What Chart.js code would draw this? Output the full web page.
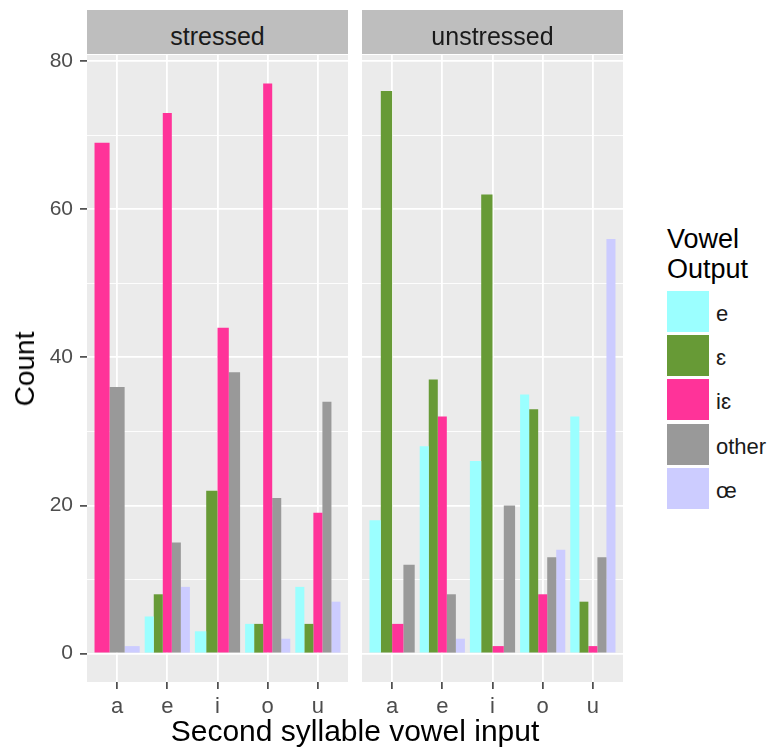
<!DOCTYPE html>
<html>
<head>
<meta charset="utf-8">
<script src="https://cdn.jsdelivr.net/npm/chart.js@4.4.1/dist/chart.umd.min.js"></script>
<style>
  body { margin: 0; background: #fff; font-family: "Liberation Sans", Arial, sans-serif; }
  #wrap { position: relative; width: 770px; height: 756px; overflow: hidden; }
  canvas { position: absolute; top: 0; }
  .strip { position: absolute; top: 10px; width: 261px; height: 44px; background: #BEBEBE;
           color: #1A1A1A; font-size: 25px; line-height: 52px; text-align: center; overflow: hidden; }
  #ytitle { position: absolute; left: 25px; top: 369px; font-size: 28px; line-height: 28px; white-space: nowrap;
            transform: translate(-50%, -50%) rotate(-90deg); color: #000; }
  #xtitle { position: absolute; left: 355px; top: 713px; font-size: 30px; line-height: 36px; white-space: nowrap;
            transform: translateX(-50%); color: #000; }
  #legend-title { position: absolute; left: 667px; top: 224px; font-size: 27px; line-height: 30px; color: #000; }
  .key { position: absolute; left: 667px; width: 42px; height: 41px; }
  .key-label { position: absolute; left: 716px; font-size: 22px; line-height: 41px; padding-top: 2px; color: #1A1A1A; white-space: nowrap; }
</style>
</head>
<body>
<div id="wrap">
  <canvas id="stressed" width="350" height="756" style="left:0"></canvas>
  <canvas id="unstressed" width="280" height="756" style="left:350px"></canvas>
  <div class="strip" style="left:87px">stressed</div>
  <div class="strip" style="left:362px">unstressed</div>
  <div id="ytitle">Count</div>
  <div id="xtitle">Second syllable vowel input</div>
  <div id="legend-title">Vowel<br>Output</div>
  <div id="legend"></div>
</div>
<script>
  const vowels = ['a', 'e', 'i', 'o', 'u'];
  const outputs = ['e', 'ɛ', 'iɛ', 'other', 'œ'];
  const colours = ['#9BFFFF', '#679A36', '#FF3399', '#999999', '#CCCCFF'];
  const yTicks = [0, 20, 40, 60, 80];
  const yMinor = [10, 30, 50, 70];

  // counts per input vowel a, e, i, o, u (null = output not present, no bar slot)
  const stressedE = [null, 5, 3, 4, 9];
  const stressedEps = [null, 8, 22, 4, 4];
  const stressedIe = [69, 73, 44, 77, 19];
  const stressedOther = [36, 15, 38, 21, 34];
  const stressedOe = [1, 9, null, 2, 7];

  const unstressedE = [18, 28, 26, 35, 32];
  const unstressedEps = [76, 37, 62, 33, 7];
  const unstressedIe = [4, 32, 1, 8, 1];
  const unstressedOther = [12, 8, 20, 13, 13];
  const unstressedOe = [null, 2, null, 14, 56];

  Chart.defaults.font.family = '"Liberation Sans", Arial, sans-serif';

  const panelBg = {
    id: 'panelBg',
    beforeDraw(chart) {
      const { ctx, chartArea: a } = chart;
      ctx.save();
      ctx.fillStyle = '#EBEBEB';
      ctx.fillRect(a.left, a.top, a.right - a.left, a.bottom - a.top);
      ctx.restore();
    }
  };

  function makeDatasets(series) {
    return outputs.map((name, k) => ({
      label: name,
      data: series[k].map((v, i) => ({ x: i, y: v })),
      backgroundColor: colours[k],
      borderWidth: 0
    }));
  }

  function panel(id, series, showY) {
    const gridValues = yTicks.concat(yMinor).sort((a, b) => a - b);
    const isMajor = v => yTicks.includes(v);
    return new Chart(document.getElementById(id), {
      type: 'bar',
      data: { datasets: makeDatasets(series) },
      options: {
        responsive: false,
        animation: false,
        layout: { padding: { top: 55, bottom: 34, left: showY ? 0 : 12, right: showY ? 2 : 7 } },
        datasets: { bar: { categoryPercentage: 0.9, barPercentage: 1, skipNull: true } },
        plugins: { legend: { display: false }, tooltip: { enabled: false } },
        scales: {
          x: {
            type: 'linear',
            min: -0.6,
            max: vowels.length - 0.4,
            offset: false,
            afterBuildTicks: s => { s.ticks = vowels.map((v, i) => ({ value: i })); },
            afterFit: s => { s.height = 40; },
            ticks: {
              callback: v => vowels[v],
              color: '#4D4D4D',
              font: { size: 22 },
              padding: 5,
              maxRotation: 0,
              autoSkip: false
            },
            grid: { offset: false, color: '#FFFFFF', lineWidth: 1.8, tickLength: 7, tickColor: '#333333', tickWidth: 1.5 },
            border: { display: false }
          },
          y: {
            min: -3.85,
            max: 80.85,
            afterBuildTicks: s => { s.ticks = gridValues.map(v => ({ value: v })); },
            afterFit: s => { s.width = showY ? 87 : 0; },
            ticks: {
              display: showY,
              callback: v => isMajor(v) ? v : '',
              color: '#4D4D4D',
              font: { size: 21 },
              padding: 7,
              autoSkip: false
            },
            grid: {
              color: '#FFFFFF',
              lineWidth: c => isMajor(c.tick.value) ? 1.8 : 0.9,
              drawTicks: showY,
              tickLength: 7,
              tickWidth: 1.5,
              tickColor: c => isMajor(c.tick.value) ? '#333333' : 'rgba(0,0,0,0)'
            },
            border: { display: false }
          }
        }
      },
      plugins: [panelBg]
    });
  }

  panel('stressed', [stressedE, stressedEps, stressedIe, stressedOther, stressedOe], true);
  panel('unstressed', [unstressedE, unstressedEps, unstressedIe, unstressedOther, unstressedOe], false);

  // legend
  const legend = document.getElementById('legend');
  outputs.forEach((name, k) => {
    const top = 291 + k * 44.2;
    const key = document.createElement('div');
    key.className = 'key';
    key.style.top = top + 'px';
    key.style.background = colours[k];
    const label = document.createElement('div');
    label.className = 'key-label';
    label.style.top = top + 'px';
    label.textContent = name;
    legend.appendChild(key);
    legend.appendChild(label);
  });
</script>
</body>
</html>
